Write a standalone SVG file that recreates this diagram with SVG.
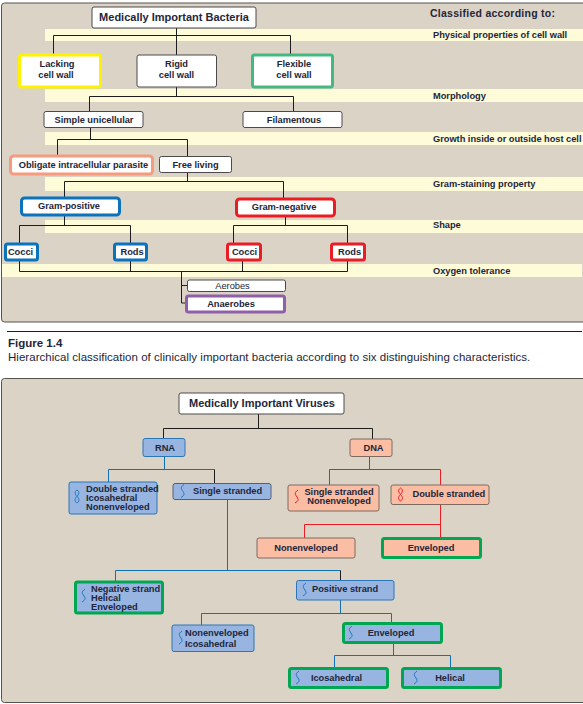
<svg xmlns="http://www.w3.org/2000/svg" width="583" height="704" viewBox="0 0 583 704">
<style>
text{font-family:"Liberation Sans",Arial,sans-serif;font-weight:700;font-size:9.3px;fill:#23263a;text-anchor:middle;letter-spacing:-.04px}
.l{text-anchor:start}
.t{font-size:11px;letter-spacing:0}
.h{font-size:10.5px;letter-spacing:.26px}
.r{font-weight:400}
.panel{fill:#dbd3c6;stroke:#55534f;stroke-width:1}
.band{fill:#fefbd8}
.w{fill:#fff;stroke:#4a4a4a;stroke-width:1}
.thick{fill:#fff;stroke-width:3}
.blu{fill:#97b5e0;stroke:#2a76b8;stroke-width:1}
.bdk{fill:#97b5e0;stroke:#55606e;stroke-width:1}
.sal{fill:#fbbda3;stroke:#7d6a60;stroke-width:1}
.bg{fill:#97b5e0;stroke:#00a651;stroke-width:3}
.sg{fill:#fbbda3;stroke:#00a651;stroke-width:3}
.conn path{fill:none;stroke-width:1;stroke:#1d1d1d}
.conn .cb{stroke:#0f72b8}
.conn .cr{stroke:#ec1c24}
.ico{fill:none;stroke:#1f77c0;stroke-width:1}
.icr{fill:none;stroke:#ec1c24;stroke-width:1}
</style>
<defs>
<path id="wave" d="M2 0C-2 3 -1 4 1 7C3 10 2 11 -1 13"/>
<path id="dbl" d="M0 0C-3 2 -2 4 0 6.500C2 4 3 2 0 0M0 6.500C-3 9 -2 12 0 13C2 12 3 9 0 6.500"/>
</defs>

<rect class="panel" x="1.500" y="3" width="590" height="319" rx="3"/>
<rect class="panel" x="1.500" y="378.500" width="590" height="324" rx="3"/>
<g id="bands">
<rect class="band" x="45" y="29" width="538" height="12"/>
<rect class="band" x="45" y="89" width="538" height="13"/>
<rect class="band" x="45" y="132" width="538" height="13"/>
<rect class="band" x="45" y="177" width="538" height="14"/>
<rect class="band" x="45" y="220" width="538" height="13"/>
<rect class="band" x="2" y="264" width="580" height="13"/>
</g>

<g class="conn" id="connectors">
<path d="M176.500 28V35.500M53.500 54V35.500H290.500V54M176.500 35.500V55"/>
<path d="M176.500 87V96.500M89.500 111V96.500H293.500V111"/>
<path d="M90.500 127V139.500M57.500 155V139.500H187.500V156"/>
<path d="M187.500 172V181.500M64.500 197V181.500H283.500V198"/>
<path d="M64.500 215V225.500M19.500 243V225.500H130.500V243"/>
<path d="M285.500 216V225.500M233.500 243V225.500H347.500V243"/>
<path d="M19.500 261V271.500H347.500V261M130.500 261V271.500M242.500 261V271.500"/>
<path d="M181.500 271.500V303H186M181.500 285.500H187.500"/>
<path d="M258.500 414V428.500M163.500 438V428.500H372.500V439"/>
<path class="cb" d="M164.500 456V469.500M108.500 482V469.500H214.500"/>
<path d="M214.500 469.500V483"/>
<path class="cr" d="M369.500 456V469.500M329.500 485V469.500H440.500V485"/>
<path class="cr" d="M440.500 505V538M304.500 538V524.500H440.500"/>
<path class="cb" d="M227.500 500V570.500M115.500 581V570.500H340.500"/>
<path d="M340.500 570.500V580"/>
<path class="cb" d="M340.500 600V613.500M201.500 625V613.500H391.500V623"/>
<path class="cb" d="M393.500 643V655.500M334.500 668V655.500H450.500V668"/>
</g>

<g id="bacteria-title"><rect class="w" x="92" y="7" width="164" height="21" rx="2"/><text class="t" x="174" y="21">Medically Important Bacteria</text></g>
<g id="lacking"><rect class="thick" stroke="#fff200" x="19.500" y="55" width="81" height="32" rx="2"/><text x="57" y="67">Lacking</text><text x="56" y="77.500">cell wall</text></g>
<g id="rigid"><rect class="w" x="137" y="55" width="79.500" height="32" rx="2"/><text x="176.500" y="67">Rigid</text><text x="176.500" y="77.500">cell wall</text></g>
<g id="flexible"><rect class="thick" stroke="#43b97f" x="252.500" y="55" width="80" height="32" rx="2"/><text x="294" y="67">Flexible</text><text x="294" y="77.500">cell wall</text></g>
<g id="simple"><rect class="w" x="44" y="111.500" width="99" height="16" rx="2"/><text x="94" y="123">Simple unicellular</text></g>
<g id="filamentous"><rect class="w" x="243" y="111.500" width="99" height="16" rx="2"/><text x="294" y="123">Filamentous</text></g>
<g id="obligate"><rect class="thick" stroke="#f79a7d" x="10.500" y="156" width="142" height="18" rx="3"/><text x="83.500" y="168">Obligate intracellular parasite</text></g>
<g id="free"><rect class="w" x="159.500" y="156.500" width="72" height="16" rx="2"/><text x="195.500" y="168">Free living</text></g>
<g id="gram-pos"><rect class="thick" stroke="#0b72bc" x="21.500" y="198" width="98" height="17" rx="3"/><text x="69" y="209">Gram-positive</text></g>
<g id="gram-neg"><rect class="thick" stroke="#ec1c24" x="236.500" y="199" width="98" height="17" rx="3"/><text x="284" y="210">Gram-negative</text></g>
<g id="cocci-b"><rect class="thick" stroke="#0b72bc" x="5.500" y="244" width="32" height="16" rx="2"/><text x="20.500" y="255">Cocci</text></g>
<g id="rods-b"><rect class="thick" stroke="#0b72bc" x="114.500" y="244" width="32" height="16" rx="2"/><text x="132" y="255">Rods</text></g>
<g id="cocci-r"><rect class="thick" stroke="#ec1c24" x="227.500" y="244" width="33" height="16" rx="2"/><text x="244.500" y="255">Cocci</text></g>
<g id="rods-r"><rect class="thick" stroke="#ec1c24" x="331.500" y="244" width="33" height="16" rx="2"/><text x="349.500" y="255">Rods</text></g>
<g id="aerobes"><rect class="w" x="187.500" y="280" width="98" height="11.500" rx="2"/><text class="r" x="232.500" y="289">Aerobes</text></g>
<g id="anaerobes"><rect class="thick" stroke="#8f5fa8" x="186.500" y="296" width="98" height="16" rx="2"/><text x="231" y="306.500">Anaerobes</text></g>

<g id="classification-labels">
<text class="h l" x="430" y="17">Classified according to:</text>
<text class="l" x="433" y="38">Physical properties of cell wall</text>
<text class="l" x="433" y="99">Morphology</text>
<text class="l" x="433" y="142">Growth inside or outside host cell</text>
<text class="l" x="433" y="187">Gram-staining property</text>
<text class="l" x="433" y="228">Shape</text>
<text class="l" x="433" y="274">Oxygen tolerance</text>
</g>

<g id="caption">
<path d="M7 331.500H582" stroke="#1d1d1d" fill="none"/>
<text class="l" style="font-size:11.500px;letter-spacing:0" x="8" y="347">Figure 1.4</text>
<text class="l r" style="font-size:11.500px;letter-spacing:.03px" x="8" y="361">Hierarchical classification of clinically important bacteria according to six distinguishing characteristics.</text>
</g>

<g id="virus-title"><rect class="w" x="179" y="393" width="165" height="21" rx="2"/><text class="t" x="262" y="407">Medically Important Viruses</text></g>
<g id="rna"><rect class="blu" x="143" y="438.500" width="42" height="18" rx="2"/><text x="165" y="450.500">RNA</text></g>
<g id="dna"><rect class="sal" x="350" y="439" width="42" height="17.500" rx="2"/><text x="373.500" y="450.500">DNA</text></g>
<g id="rna-double"><rect class="blu" x="69" y="482" width="88" height="32" rx="2"/><use class="ico" href="#dbl" x="77" y="490"/><text class="l" x="86" y="492">Double stranded</text><text class="l" x="86" y="501">Icosahedral</text><text class="l" x="86" y="510">Nonenveloped</text></g>
<g id="rna-single"><rect class="bdk" x="173" y="483.500" width="98" height="16" rx="2"/><use class="ico" href="#wave" x="182" y="484.500"/><text class="l" x="193" y="494">Single stranded</text></g>
<g id="dna-single"><rect class="sal" x="288" y="485" width="91" height="26" rx="2"/><use class="icr" href="#wave" x="296" y="490"/><text x="339" y="495">Single stranded</text><text x="339" y="504">Nonenveloped</text></g>
<g id="dna-double"><rect class="sal" x="391" y="485" width="98" height="19.500" rx="2"/><use class="icr" href="#dbl" x="400.500" y="488"/><text class="l" x="412.500" y="497">Double stranded</text></g>
<g id="dna-nonenv"><rect class="sal" x="257" y="538" width="98" height="20" rx="2"/><text x="306" y="551">Nonenveloped</text></g>
<g id="dna-env"><rect class="sg" x="382.500" y="538.500" width="98" height="19" rx="2"/><text x="431" y="551">Enveloped</text></g>
<g id="neg"><rect class="bg" x="75.500" y="582" width="87" height="31" rx="2"/><use class="ico" href="#wave" x="83" y="589"/><text class="l" x="91" y="592">Negative strand</text><text class="l" x="91" y="601">Helical</text><text class="l" x="91" y="610">Enveloped</text></g>
<g id="pos"><rect class="blu" x="296.500" y="580.500" width="97.500" height="19.500" rx="2"/><use class="ico" href="#wave" x="304" y="583"/><text class="l" x="312" y="592">Positive strand</text></g>
<g id="nonenv-ico"><rect class="blu" x="172" y="625" width="82" height="26.500" rx="2"/><use class="ico" href="#wave" x="180" y="631"/><text class="l" x="185" y="636">Nonenveloped</text><text class="l" x="185" y="647">Icosahedral</text></g>
<g id="pos-env"><rect class="bg" x="343.500" y="623.500" width="98" height="19" rx="2"/><use class="ico" href="#wave" x="350" y="626"/><text x="391" y="636">Enveloped</text></g>
<g id="ico"><rect class="bg" x="289.500" y="668.500" width="98" height="19" rx="2"/><use class="ico" href="#wave" x="297" y="671"/><text x="336.500" y="681">Icosahedral</text></g>
<g id="hel"><rect class="bg" x="402.500" y="668.500" width="98" height="19" rx="2"/><use class="ico" href="#wave" x="415" y="671"/><text x="450" y="681">Helical</text></g>
</svg>
